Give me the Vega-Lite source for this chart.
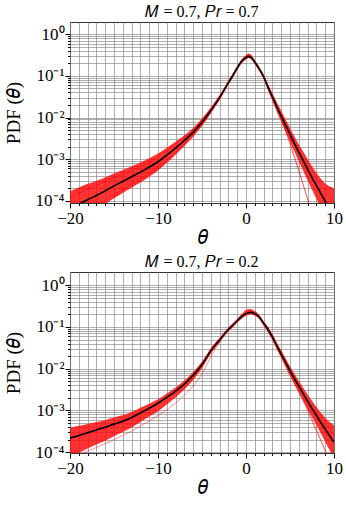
{
  "$schema": "https://vega.github.io/schema/vega-lite/v6.json",
  "padding": {"left": 3, "right": 8, "top": 3, "bottom": 3},
  "spacing": 5,
  "config": {
    "font": "Liberation Serif",
    "view": {"stroke": "#333333", "strokeWidth": 1},
    "title": {"font": "Liberation Serif", "fontSize": 16, "fontWeight": "normal", "color": "black", "offset": 2},
    "axis": {
      "domain": false,
      "grid": true,
      "gridColor": "#8a8a8a",
      "gridWidth": 0.7,
      "tickColor": "black",
      "labelColor": "black",
      "labelFont": "Liberation Serif",
      "labelFontSize": 17,
      "labelOverlap": false,
      "labelFlush": false,
      "titleFont": "Liberation Serif",
      "titleFontWeight": "normal",
      "titleColor": "black"
    }
  },
  "datasets": {
    "meanA": [
      {"theta": -20, "p": 6.46e-5}, {"theta": -19, "p": 8.32e-5}, {"theta": -18, "p": 1.07e-4}, {"theta": -17, "p": 1.35e-4},
      {"theta": -16, "p": 1.74e-4}, {"theta": -15, "p": 2.29e-4}, {"theta": -14, "p": 2.95e-4}, {"theta": -13, "p": 3.80e-4},
      {"theta": -12, "p": 4.90e-4}, {"theta": -11, "p": 6.46e-4}, {"theta": -10, "p": 8.71e-4}, {"theta": -9, "p": 1.26e-3},
      {"theta": -8, "p": 1.86e-3}, {"theta": -7, "p": 2.82e-3}, {"theta": -6, "p": 4.47e-3}, {"theta": -5, "p": 7.76e-3},
      {"theta": -4, "p": 0.0148}, {"theta": -3, "p": 0.0302}, {"theta": -2, "p": 0.0692}, {"theta": -1.5, "p": 0.1},
      {"theta": -1, "p": 0.155}, {"theta": -0.5, "p": 0.224}, {"theta": 0, "p": 0.275}, {"theta": 0.3, "p": 0.295},
      {"theta": 0.7, "p": 0.263}, {"theta": 1, "p": 0.214}, {"theta": 1.5, "p": 0.148}, {"theta": 2, "p": 0.0955},
      {"theta": 2.5, "p": 0.0537}, {"theta": 3, "p": 0.0316}, {"theta": 3.5, "p": 0.0182}, {"theta": 4, "p": 0.011},
      {"theta": 4.5, "p": 6.61e-3}, {"theta": 5, "p": 3.98e-3}, {"theta": 5.5, "p": 2.40e-3}, {"theta": 6, "p": 1.48e-3},
      {"theta": 6.5, "p": 9.33e-4}, {"theta": 7, "p": 5.75e-4}, {"theta": 7.5, "p": 3.63e-4}, {"theta": 8, "p": 2.34e-4},
      {"theta": 8.5, "p": 1.51e-4}, {"theta": 9, "p": 9.77e-5}, {"theta": 9.5, "p": 6.31e-5}, {"theta": 10, "p": 4.07e-5}
    ],
    "bandA": [
      {"theta": -20, "p": 1.70e-4, "p2": 2.57e-5}, {"theta": -19, "p": 2.09e-4, "p2": 3.47e-5}, {"theta": -18, "p": 2.57e-4, "p2": 4.68e-5},
      {"theta": -17, "p": 3.02e-4, "p2": 6.17e-5}, {"theta": -16, "p": 3.63e-4, "p2": 8.32e-5}, {"theta": -15, "p": 4.52e-4, "p2": 1.15e-4},
      {"theta": -14, "p": 5.50e-4, "p2": 1.55e-4}, {"theta": -13, "p": 6.76e-4, "p2": 2.07e-4}, {"theta": -12, "p": 8.32e-4, "p2": 2.75e-4},
      {"theta": -11, "p": 1.06e-3, "p2": 3.80e-4}, {"theta": -10, "p": 1.38e-3, "p2": 5.37e-4}, {"theta": -9, "p": 1.88e-3, "p2": 8.22e-4},
      {"theta": -8, "p": 2.63e-3, "p2": 1.29e-3}, {"theta": -7, "p": 3.76e-3, "p2": 2.07e-3}, {"theta": -6, "p": 5.62e-3, "p2": 3.47e-3},
      {"theta": -5, "p": 9.44e-3, "p2": 6.31e-3}, {"theta": -4, "p": 0.0174, "p2": 0.0126}, {"theta": -3, "p": 0.0347, "p2": 0.0263},
      {"theta": -2, "p": 0.0776, "p2": 0.0617}, {"theta": -1, "p": 0.174, "p2": 0.138}, {"theta": -0.5, "p": 0.251, "p2": 0.200},
      {"theta": 0, "p": 0.320, "p2": 0.248}, {"theta": 0.3, "p": 0.347, "p2": 0.269}, {"theta": 0.7, "p": 0.302, "p2": 0.234},
      {"theta": 1, "p": 0.240, "p2": 0.191}, {"theta": 1.5, "p": 0.166, "p2": 0.132}, {"theta": 2, "p": 0.110, "p2": 0.0832},
      {"theta": 2.5, "p": 0.0638, "p2": 0.0447}, {"theta": 3, "p": 0.0389, "p2": 0.0251}, {"theta": 3.5, "p": 0.0232, "p2": 0.0138},
      {"theta": 4, "p": 0.0145, "p2": 7.94e-3}, {"theta": 4.5, "p": 9.02e-3, "p2": 4.57e-3}, {"theta": 5, "p": 5.62e-3, "p2": 2.63e-3},
      {"theta": 5.5, "p": 3.55e-3, "p2": 1.51e-3}, {"theta": 6, "p": 2.29e-3, "p2": 8.91e-4}, {"theta": 6.5, "p": 1.53e-3, "p2": 5.31e-4},
      {"theta": 7, "p": 1.0e-3, "p2": 3.09e-4}, {"theta": 7.5, "p": 6.76e-4, "p2": 1.84e-4}, {"theta": 8, "p": 4.68e-4, "p2": 1.12e-4},
      {"theta": 8.5, "p": 3.39e-4, "p2": 6.76e-5}, {"theta": 9, "p": 2.63e-4, "p2": 4.07e-5}, {"theta": 9.5, "p": 2.24e-4, "p2": 2.51e-5},
      {"theta": 10, "p": 2.0e-4, "p2": 1.55e-5}
    ],
    "outA": [
      {"id": "a1", "theta": 3, "p": 0.0316}, {"id": "a1", "theta": 4, "p": 9.5e-3}, {"id": "a1", "theta": 5, "p": 2.5e-3},
      {"id": "a1", "theta": 6, "p": 5.5e-4}, {"id": "a1", "theta": 7, "p": 1.1e-4}, {"id": "a1", "theta": 7.5, "p": 5e-5},
      {"id": "a2", "theta": 3.5, "p": 0.0175}, {"id": "a2", "theta": 4.5, "p": 4.6e-3}, {"id": "a2", "theta": 5.5, "p": 1.1e-3},
      {"id": "a2", "theta": 6.5, "p": 2.4e-4}, {"id": "a2", "theta": 7.3, "p": 7e-5},
      {"id": "a3", "theta": -20, "p": 1.2e-4}, {"id": "a3", "theta": -17, "p": 2.4e-4}, {"id": "a3", "theta": -14, "p": 4.4e-4},
      {"id": "a3", "theta": -11, "p": 8.5e-4}, {"id": "a3", "theta": -8, "p": 2.3e-3}, {"id": "a3", "theta": -5, "p": 8.8e-3},
      {"id": "a3", "theta": -3, "p": 0.033},
      {"id": "a4", "theta": -20, "p": 4e-5}, {"id": "a4", "theta": -17, "p": 8e-5}, {"id": "a4", "theta": -14, "p": 1.9e-4},
      {"id": "a4", "theta": -11, "p": 4.6e-4}, {"id": "a4", "theta": -8, "p": 1.45e-3}, {"id": "a4", "theta": -5, "p": 6.8e-3},
      {"id": "a4", "theta": -3, "p": 0.028}
    ],
    "meanB": [
      {"theta": -20, "p": 2.16e-4}, {"theta": -19, "p": 2.51e-4}, {"theta": -18, "p": 2.92e-4}, {"theta": -17, "p": 3.39e-4},
      {"theta": -16, "p": 3.94e-4}, {"theta": -15, "p": 4.68e-4}, {"theta": -14, "p": 5.50e-4}, {"theta": -13, "p": 6.76e-4},
      {"theta": -12, "p": 8.71e-4}, {"theta": -11, "p": 1.12e-3}, {"theta": -10, "p": 1.48e-3}, {"theta": -9, "p": 2.04e-3},
      {"theta": -8, "p": 2.88e-3}, {"theta": -7, "p": 4.27e-3}, {"theta": -6, "p": 6.92e-3}, {"theta": -5, "p": 0.0126},
      {"theta": -4, "p": 0.0269}, {"theta": -3, "p": 0.049}, {"theta": -2, "p": 0.0871}, {"theta": -1.5, "p": 0.11},
      {"theta": -1, "p": 0.141}, {"theta": -0.5, "p": 0.178}, {"theta": 0, "p": 0.209}, {"theta": 0.5, "p": 0.224},
      {"theta": 1, "p": 0.209}, {"theta": 1.5, "p": 0.174}, {"theta": 2, "p": 0.123}, {"theta": 2.5, "p": 0.0871},
      {"theta": 3, "p": 0.0575}, {"theta": 3.5, "p": 0.0355}, {"theta": 4, "p": 0.0224}, {"theta": 4.5, "p": 0.0141},
      {"theta": 5, "p": 8.91e-3}, {"theta": 5.5, "p": 5.75e-3}, {"theta": 6, "p": 3.80e-3}, {"theta": 6.5, "p": 2.51e-3},
      {"theta": 7, "p": 1.66e-3}, {"theta": 7.5, "p": 1.12e-3}, {"theta": 8, "p": 7.59e-4}, {"theta": 8.5, "p": 5.13e-4},
      {"theta": 9, "p": 3.55e-4}, {"theta": 9.5, "p": 2.45e-4}, {"theta": 10, "p": 1.74e-4}
    ],
    "bandB": [
      {"theta": -20, "p": 3.85e-4, "p2": 7.67e-5}, {"theta": -19, "p": 4.27e-4, "p2": 9.55e-5}, {"theta": -18, "p": 4.73e-4, "p2": 1.22e-4},
      {"theta": -17, "p": 5.25e-4, "p2": 1.51e-4}, {"theta": -16, "p": 5.82e-4, "p2": 1.88e-4}, {"theta": -15, "p": 6.76e-4, "p2": 2.40e-4},
      {"theta": -14, "p": 7.59e-4, "p2": 3.02e-4}, {"theta": -13, "p": 9.12e-4, "p2": 3.89e-4}, {"theta": -12, "p": 1.15e-3, "p2": 5.25e-4},
      {"theta": -11, "p": 1.45e-3, "p2": 7.08e-4}, {"theta": -10, "p": 1.86e-3, "p2": 9.55e-4}, {"theta": -9, "p": 2.54e-3, "p2": 1.38e-3},
      {"theta": -8, "p": 3.55e-3, "p2": 2.04e-3}, {"theta": -7, "p": 5.19e-3, "p2": 3.16e-3}, {"theta": -6, "p": 8.32e-3, "p2": 5.37e-3},
      {"theta": -5, "p": 0.0148, "p2": 0.0102}, {"theta": -4, "p": 0.0309, "p2": 0.0229}, {"theta": -3, "p": 0.0550, "p2": 0.0427},
      {"theta": -2, "p": 0.0977, "p2": 0.0776}, {"theta": -1.5, "p": 0.123, "p2": 0.0977}, {"theta": -1, "p": 0.158, "p2": 0.126},
      {"theta": -0.5, "p": 0.204, "p2": 0.158}, {"theta": 0, "p": 0.255, "p2": 0.186}, {"theta": 0.5, "p": 0.27, "p2": 0.200},
      {"theta": 1, "p": 0.240, "p2": 0.186}, {"theta": 1.5, "p": 0.195, "p2": 0.155}, {"theta": 2, "p": 0.138, "p2": 0.107},
      {"theta": 2.5, "p": 0.100, "p2": 0.0741}, {"theta": 3, "p": 0.0676, "p2": 0.0479}, {"theta": 3.5, "p": 0.0427, "p2": 0.0288},
      {"theta": 4, "p": 0.0275, "p2": 0.0178}, {"theta": 4.5, "p": 0.0178, "p2": 0.0108}, {"theta": 5, "p": 0.0115, "p2": 6.61e-3},
      {"theta": 5.5, "p": 7.59e-3, "p2": 4.12e-3}, {"theta": 6, "p": 5.13e-3, "p2": 2.63e-3}, {"theta": 6.5, "p": 3.51e-3, "p2": 1.68e-3},
      {"theta": 7, "p": 2.40e-3, "p2": 1.07e-3}, {"theta": 7.5, "p": 1.70e-3, "p2": 6.92e-4}, {"theta": 8, "p": 1.20e-3, "p2": 4.47e-4},
      {"theta": 8.5, "p": 8.71e-4, "p2": 2.82e-4}, {"theta": 9, "p": 6.61e-4, "p2": 1.78e-4}, {"theta": 9.5, "p": 5.25e-4, "p2": 1.12e-4},
      {"theta": 10, "p": 4.37e-4, "p2": 7.24e-5}
    ],
    "outB": [
      {"id": "b1", "theta": -20, "p": 7e-5}, {"id": "b1", "theta": -18, "p": 1.05e-4}, {"id": "b1", "theta": -16, "p": 1.6e-4},
      {"id": "b1", "theta": -14, "p": 2.5e-4}, {"id": "b1", "theta": -12, "p": 4.2e-4}, {"id": "b1", "theta": -10, "p": 7.5e-4},
      {"id": "b1", "theta": -8, "p": 1.5e-3}, {"id": "b1", "theta": -6, "p": 3.9e-3}, {"id": "b1", "theta": -5, "p": 7.5e-3},
      {"id": "b1", "theta": -4, "p": 0.019}, {"id": "b1", "theta": -3, "p": 0.044},
      {"id": "b2", "theta": 6, "p": 2.9e-3}, {"id": "b2", "theta": 7, "p": 9.5e-4}, {"id": "b2", "theta": 8, "p": 3.2e-4},
      {"id": "b2", "theta": 9, "p": 1.15e-4}, {"id": "b2", "theta": 9.5, "p": 6.5e-5},
      {"id": "b3", "theta": 6.5, "p": 2.0e-3}, {"id": "b3", "theta": 7.5, "p": 6.2e-4}, {"id": "b3", "theta": 8.5, "p": 1.9e-4},
      {"id": "b3", "theta": 9.3, "p": 7e-5}
    ]
  },
  "vconcat": [
    {
      "title": {"text": "𝑀 = 0.7, 𝑃𝑟 = 0.7"},
      "width": 264,
      "height": 181,
      "encoding": {
        "x": {
          "field": "theta", "type": "quantitative", "title": "𝜃",
          "scale": {"domain": [-20, 10], "nice": false, "zero": false},
          "axis": {
            "values": [-20,-19,-18,-17,-16,-15,-14,-13,-12,-11,-10,-9,-8,-7,-6,-5,-4,-3,-2,-1,0,1,2,3,4,5,6,7,8,9,10],
            "format": "d",
            "labelExpr": "datum.value % 10 === 0 ? datum.label : ''",
            "tickSize": {"condition": {"test": "datum.value % 10 === 0", "value": 5}, "value": 2.5},
            "labelPadding": 2, "titleFontSize": 20, "titlePadding": 1
          }
        },
        "y": {
          "field": "p", "type": "quantitative", "title": "PDF (𝜃)",
          "scale": {"type": "log", "domain": [8.9e-5, 1.97], "nice": false},
          "axis": {
            "values": [0.0001,0.0002,0.0003,0.0004,0.0005,0.0006,0.0007,0.0008,0.0009,0.001,0.002,0.003,0.004,0.005,0.006,0.007,0.008,0.009,0.01,0.02,0.03,0.04,0.05,0.06,0.07,0.08,0.09,0.1,0.2,0.3,0.4,0.5,0.6,0.7,0.8,0.9,1],
            "labelExpr": "datum.value === 1 ? '10⁰' : datum.value === 0.1 ? '10⁻¹' : datum.value === 0.01 ? '10⁻²' : datum.value === 0.001 ? '10⁻³' : datum.value === 0.0001 ? '10⁻⁴' : ''",
            "tickSize": {"condition": {"test": "datum.value === 1 || datum.value === 0.1 || datum.value === 0.01 || datum.value === 0.001 || datum.value === 0.0001", "value": 5}, "value": 2.5},
            "labelPadding": 1, "titleFontSize": 19, "titlePadding": 12
          }
        }
      },
      "layer": [
        {"data": {"name": "bandA"}, "mark": {"type": "area", "clip": true, "color": "#ff0000", "opacity": 0.8, "interpolate": "monotone"}, "encoding": {"y2": {"field": "p2"}}},
        {"data": {"name": "outA"}, "mark": {"type": "line", "clip": true, "color": "#ff0000", "strokeWidth": 0.6, "opacity": 0.7, "interpolate": "monotone"}, "encoding": {"detail": {"field": "id"}}},
        {"data": {"name": "meanA"}, "mark": {"type": "line", "clip": true, "color": "black", "strokeWidth": 1.6, "interpolate": "monotone"}, "encoding": {}}
      ]
    },
    {
      "title": {"text": "𝑀 = 0.7, 𝑃𝑟 = 0.2"},
      "width": 264,
      "height": 181,
      "encoding": {
        "x": {
          "field": "theta", "type": "quantitative", "title": "𝜃",
          "scale": {"domain": [-20, 10], "nice": false, "zero": false},
          "axis": {
            "values": [-20,-19,-18,-17,-16,-15,-14,-13,-12,-11,-10,-9,-8,-7,-6,-5,-4,-3,-2,-1,0,1,2,3,4,5,6,7,8,9,10],
            "format": "d",
            "labelExpr": "datum.value % 10 === 0 ? datum.label : ''",
            "tickSize": {"condition": {"test": "datum.value % 10 === 0", "value": 5}, "value": 2.5},
            "labelPadding": 2, "titleFontSize": 20, "titlePadding": 1
          }
        },
        "y": {
          "field": "p", "type": "quantitative", "title": "PDF (𝜃)",
          "scale": {"type": "log", "domain": [9.5e-5, 2.08], "nice": false},
          "axis": {
            "values": [0.0001,0.0002,0.0003,0.0004,0.0005,0.0006,0.0007,0.0008,0.0009,0.001,0.002,0.003,0.004,0.005,0.006,0.007,0.008,0.009,0.01,0.02,0.03,0.04,0.05,0.06,0.07,0.08,0.09,0.1,0.2,0.3,0.4,0.5,0.6,0.7,0.8,0.9,1],
            "labelExpr": "datum.value === 1 ? '10⁰' : datum.value === 0.1 ? '10⁻¹' : datum.value === 0.01 ? '10⁻²' : datum.value === 0.001 ? '10⁻³' : datum.value === 0.0001 ? '10⁻⁴' : ''",
            "tickSize": {"condition": {"test": "datum.value === 1 || datum.value === 0.1 || datum.value === 0.01 || datum.value === 0.001 || datum.value === 0.0001", "value": 5}, "value": 2.5},
            "labelPadding": 1, "titleFontSize": 19, "titlePadding": 12
          }
        }
      },
      "layer": [
        {"data": {"name": "bandB"}, "mark": {"type": "area", "clip": true, "color": "#ff0000", "opacity": 0.8, "interpolate": "monotone"}, "encoding": {"y2": {"field": "p2"}}},
        {"data": {"name": "outB"}, "mark": {"type": "line", "clip": true, "color": "#ff0000", "strokeWidth": 0.6, "opacity": 0.7, "interpolate": "monotone"}, "encoding": {"detail": {"field": "id"}}},
        {"data": {"name": "meanB"}, "mark": {"type": "line", "clip": true, "color": "black", "strokeWidth": 1.6, "interpolate": "monotone"}, "encoding": {}}
      ]
    }
  ]
}
